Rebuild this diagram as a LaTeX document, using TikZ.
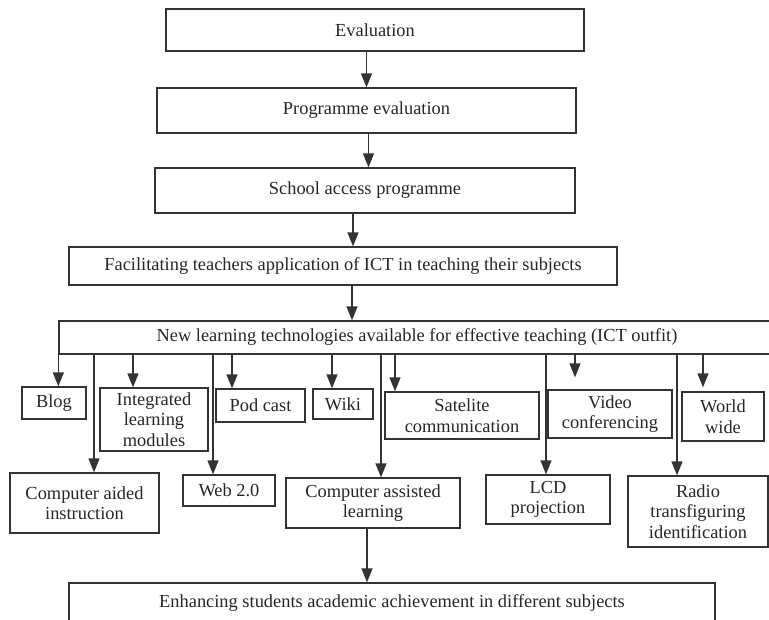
\documentclass[tikz,border=0pt]{standalone}
\usepackage{fontspec}
\setmainfont{Liberation Serif}
\newfontfamily\boxfont{Liberation Serif}
\usetikzlibrary{arrows.meta}

\tikzset{
  box/.style={draw=black!80, line width=1.3pt, inner sep=0pt, align=center,
    text=black!85, font=\boxfont\fontsize{18.4}{20.5}\selectfont},
  arr/.style={draw=black!80, line width=1.3pt, -{Triangle[length=14pt,width=11pt]}}
}

\begin{document}
\begin{tikzpicture}[x=1pt,y=-1pt]
    \useasboundingbox (0,0) rectangle (769,619);

    % Kette oben
    \node[box, minimum width=418, minimum height=42] (eval) at (375,30) {Evaluation};
    \node[box, minimum width=419, minimum height=45] (prog) at (366.5,110.5) {Programme evaluation};
    \node[box, minimum width=420, minimum height=45] (school) at (365,190.5) {School access programme};
    \node[box, minimum width=548, minimum height=38] (facil) at (343,266) {Facilitating teachers application of ICT in teaching their subjects};
    \node[box, minimum width=716, minimum height=33] (newtech) at (417,337.5) {New learning technologies available for effective teaching (ICT outfit)};

    \draw[arr] (eval.south -| prog.north) -- (prog.north);
    \draw[arr] ([xshift=2]prog.south) -- ([xshift=2]prog.south |- school.north);
    \draw[arr] ([xshift=-12]school.south) -- ([xshift=-12]school.south |- facil.north);
    \draw[arr] ([xshift=9]facil.south) -- ([xshift=9]facil.south |- newtech.north);

    % Obere Reihe
    \node[box, minimum width=64, minimum height=32] (blog) at (54,403) {Blog};
    \node[box, minimum width=108, minimum height=63] (integ) at (154,419.5) {Integrated\\learning\\modules};
    \node[box, minimum width=89, minimum height=33] (pod) at (260.5,405.5) {Pod cast};
    \node[box, minimum width=60, minimum height=30] (wiki) at (343,404) {Wiki};
    \node[box, minimum width=154, minimum height=47] (sat) at (462,415.5) {Satelite\\communication};
    \node[box, minimum width=124, minimum height=48] (video) at (610,414) {Video\\conferencing};
    \node[box, minimum width=82, minimum height=49] (world) at (723,416.5) {World\\wide};

    \draw[arr] (newtech.south west) -- (newtech.south west |- blog.north);
    \draw[arr] ([xshift=-21]integ.north |- newtech.south) -- ([xshift=-21]integ.north);
    \draw[arr] ([xshift=-28.5]pod.north |- newtech.south) -- ([xshift=-28.5]pod.north);
    \draw[arr] ([xshift=-11]wiki.north |- newtech.south) -- ([xshift=-11]wiki.north);
    \draw[arr] ([xshift=-67]sat.north |- newtech.south) -- ([xshift=-67]sat.north);
    \draw[arr, shorten >=12pt] ([xshift=-35]video.north |- newtech.south) -- ([xshift=-35]video.north);
    \draw[arr, shorten >=4pt] ([xshift=-20]world.north |- newtech.south) -- ([xshift=-20]world.north);

    % Untere Reihe
    \node[box, minimum width=149, minimum height=60] (cai) at (84.5,503) {Computer aided\\instruction};
    \node[box, minimum width=92, minimum height=31] (web) at (229,490.5) {Web 2.0};
    \node[box, minimum width=174, minimum height=50] (cal) at (373,503) {Computer assisted\\learning};
    \node[box, minimum width=124, minimum height=49] (lcd) at (548,499.5) {LCD\\projection};
    \node[box, minimum width=140, minimum height=71] (radio) at (698,511.5) {Radio\\transfiguring\\identification};

    \draw[arr] ([xshift=9.5]cai.north |- newtech.south) -- ([xshift=9.5]cai.north);
    \draw[arr] ([xshift=-16]web.north |- newtech.south) -- ([xshift=-16]web.north);
    \draw[arr] ([xshift=8]cal.north |- newtech.south) -- ([xshift=8]cal.north);
    \draw[arr] ([xshift=-2]lcd.north |- newtech.south) -- ([xshift=-2]lcd.north);
    \draw[arr] ([xshift=-21]radio.north |- newtech.south) -- ([xshift=-21]radio.north);

    % Ergebnis
    \node[box, minimum width=646, minimum height=39] (enh) at (392,602.5) {Enhancing students academic achievement in different subjects};

    \draw[arr] ([xshift=-6]cal.south) -- ([xshift=-6]cal.south |- enh.north);
  \end{tikzpicture}
\end{document}
